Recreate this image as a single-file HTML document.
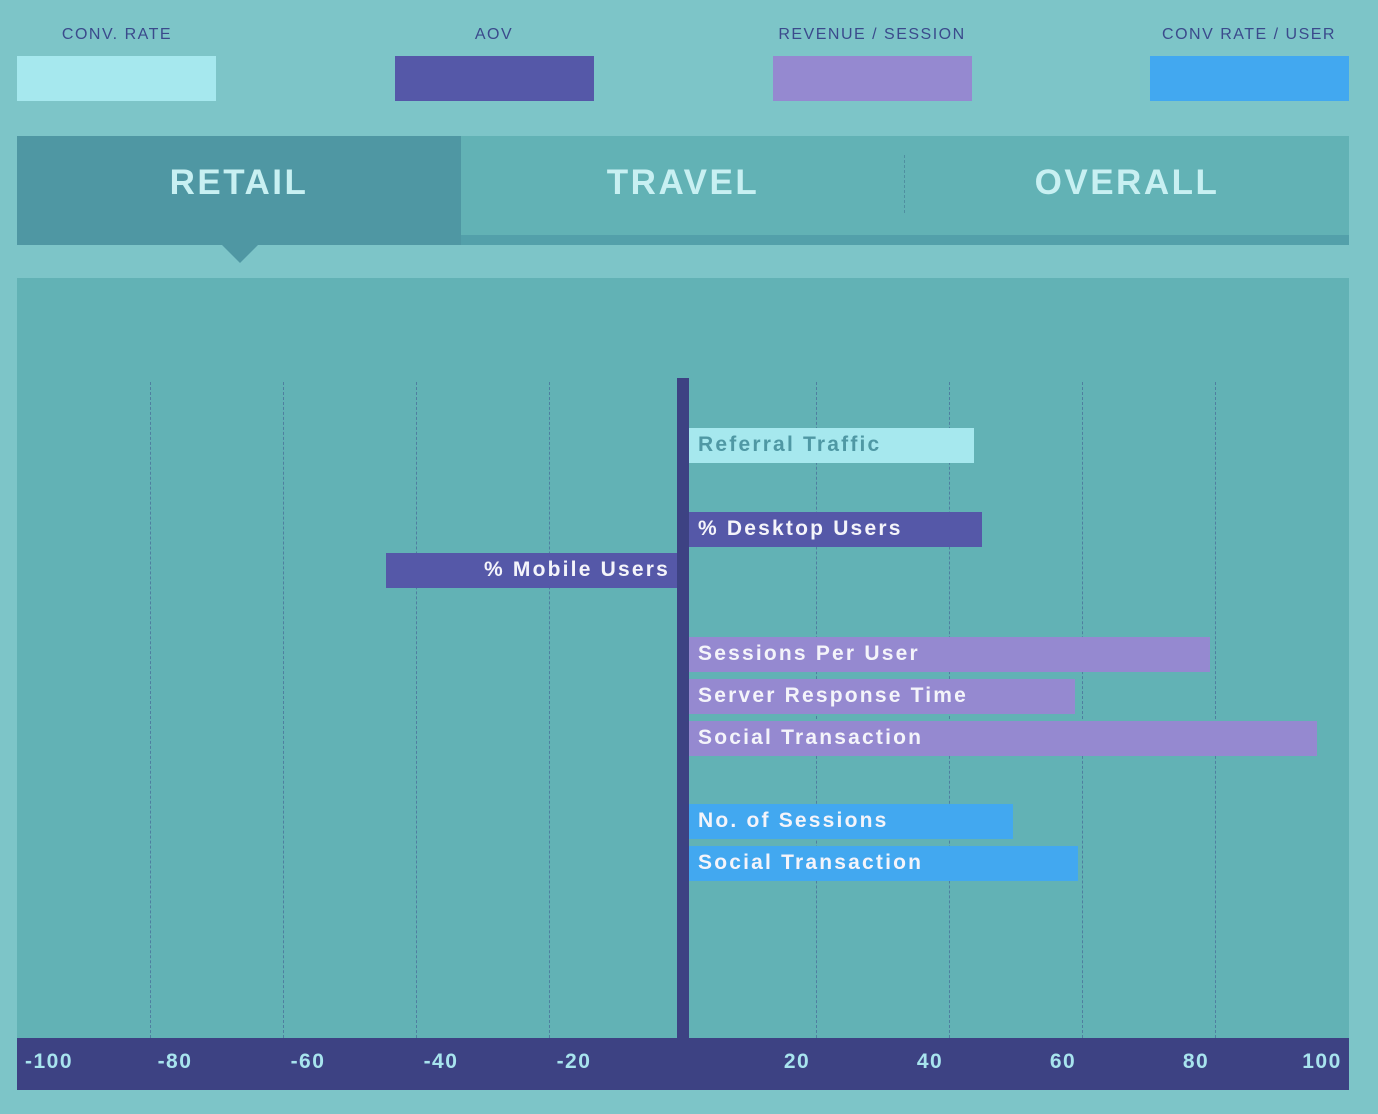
<!DOCTYPE html>
<html><head><style>
*{margin:0;padding:0;box-sizing:border-box}
body{width:1378px;height:1114px;background:#7dc5c8;position:relative;overflow:hidden;font-family:"Liberation Sans",sans-serif}
.a{position:absolute}
.lg{position:absolute;top:26px;font-size:16px;letter-spacing:1.5px;color:#3b4a8c;text-align:center;width:260px}
.sw{position:absolute;top:56px;height:45px;width:199px}
.tab{position:absolute;font-size:35px;font-weight:bold;letter-spacing:2.5px;color:#c8f0f2;text-align:center}
.gl{position:absolute;top:382px;height:656px;border-left:1.5px dashed #4f7fa0}
.bar{position:absolute;height:35px;font-size:21px;font-weight:bold;letter-spacing:2.2px;color:#f4f4fa;line-height:33px;padding-left:9px;white-space:nowrap}
.tk{position:absolute;top:1050px;font-size:21px;font-weight:bold;letter-spacing:1.5px;color:#a8e4ee;width:80px;text-align:center}
</style></head><body>
<div class="lg" style="left:-13px">CONV. RATE</div>
<div class="lg" style="left:364px">AOV</div>
<div class="lg" style="left:742px">REVENUE / SESSION</div>
<div class="lg" style="left:1119px">CONV RATE / USER</div>
<div class="sw" style="left:17px;background:#a6e8ee"></div>
<div class="sw" style="left:395px;background:#5558a8"></div>
<div class="sw" style="left:773px;background:#9589d0"></div>
<div class="sw" style="left:1150px;background:#42a8f0"></div>

<div class="a" style="left:461px;top:136px;width:888px;height:109px;background:#53a0aa"></div>
<div class="a" style="left:461px;top:136px;width:888px;height:99px;background:#62b2b5"></div>
<div class="a" style="left:17px;top:136px;width:444px;height:109px;background:#4f97a3"></div>
<div class="a" style="left:222px;top:245px;width:0;height:0;border-left:18px solid transparent;border-right:18px solid transparent;border-top:18px solid #4f97a3"></div>
<div class="a" style="left:904px;top:155px;height:58px;border-left:1.5px dashed #4f8fa0"></div>
<div class="tab" style="left:17px;top:163px;width:444px">RETAIL</div>
<div class="tab" style="left:461px;top:163px;width:444px">TRAVEL</div>
<div class="tab" style="left:905px;top:163px;width:444px">OVERALL</div>

<div class="a" style="left:17px;top:278px;width:1332px;height:812px;background:#62b2b5"></div>
<div class="gl" style="left:150px"></div><div class="gl" style="left:283px"></div>
<div class="gl" style="left:416px"></div><div class="gl" style="left:549px"></div>
<div class="gl" style="left:816px"></div><div class="gl" style="left:949px"></div>
<div class="gl" style="left:1082px"></div><div class="gl" style="left:1215px"></div>
<div class="a" style="left:677px;top:378px;width:12px;height:662px;background:#3d4283"></div>

<div class="bar" style="left:689px;top:428px;width:285px;background:#a6e8ee;color:#4f98a4">Referral Traffic</div>
<div class="bar" style="left:689px;top:512px;width:293px;background:#5558a8">% Desktop Users</div>
<div class="bar" style="left:386px;top:553px;width:291px;background:#5558a8;text-align:right;padding-right:7px">% Mobile Users</div>
<div class="bar" style="left:689px;top:637px;width:521px;background:#9589d0">Sessions Per User</div>
<div class="bar" style="left:689px;top:679px;width:386px;background:#9589d0">Server Response Time</div>
<div class="bar" style="left:689px;top:721px;width:628px;background:#9589d0">Social Transaction</div>
<div class="bar" style="left:689px;top:804px;width:324px;background:#42a8f0">No. of Sessions</div>
<div class="bar" style="left:689px;top:846px;width:389px;background:#42a8f0">Social Transaction</div>

<div class="a" style="left:17px;top:1038px;width:1332px;height:52px;background:#3d4283"></div>
<div class="tk" style="left:9px">-100</div>
<div class="tk" style="left:135px">-80</div>
<div class="tk" style="left:268px">-60</div>
<div class="tk" style="left:401px">-40</div>
<div class="tk" style="left:534px">-20</div>
<div class="tk" style="left:757px">20</div>
<div class="tk" style="left:890px">40</div>
<div class="tk" style="left:1023px">60</div>
<div class="tk" style="left:1156px">80</div>
<div class="tk" style="left:1282px">100</div>
</body></html>
